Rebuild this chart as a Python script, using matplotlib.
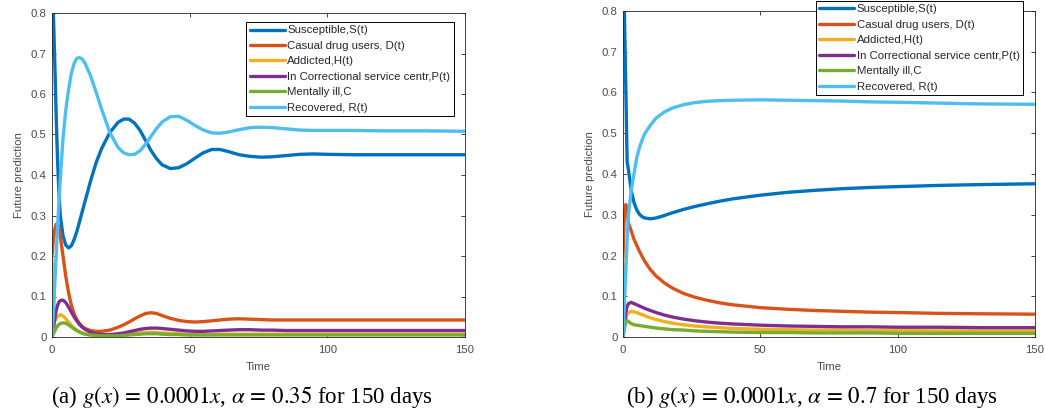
import matplotlib
matplotlib.use("Agg")
import matplotlib.pyplot as plt

# MATLAB default line colours
COLORS = ["#0072BD", "#D95319", "#EDB120", "#7E2F8E", "#77AC30", "#4DBEEE"]
LABELS = ["Susceptible,S(t)", "Casual drug users, D(t)", "Addicted,H(t)",
          "In Correctional service centr,P(t)", "Mentally ill,C", "Recovered, R(t)"]

# (a) alpha = 0.35
t_a = [0, 0.5, 1, 1.5, 2, 2.5, 3, 4, 5, 6, 7, 8, 9, 10, 11, 12, 14, 16, 18, 21, 24, 26,
       28, 30, 32, 34, 36, 38, 40, 43, 46, 49, 52, 55, 58, 61, 64, 68, 72, 76, 80, 85,
       90, 95, 100, 110, 120, 135, 150]
S_a = [0.70, 0.80, 0.68, 0.55, 0.44, 0.36, 0.30, 0.25, 0.227, 0.22, 0.225, 0.24, 0.26,
       0.285, 0.31, 0.335, 0.385, 0.43, 0.465, 0.505, 0.53, 0.538, 0.538, 0.528, 0.51,
       0.485, 0.46, 0.44, 0.425, 0.416, 0.418, 0.428, 0.442, 0.455, 0.463, 0.463, 0.458,
       0.45, 0.446, 0.444, 0.445, 0.448, 0.451, 0.452, 0.451, 0.45, 0.45, 0.45, 0.45]
D_a = [0.20, 0.24, 0.265, 0.278, 0.28, 0.27, 0.25, 0.20, 0.15, 0.11, 0.08, 0.058, 0.043,
       0.033, 0.026, 0.021, 0.016, 0.014, 0.014, 0.017, 0.024, 0.030, 0.037, 0.045, 0.052,
       0.058, 0.060, 0.058, 0.053, 0.046, 0.041, 0.038, 0.037, 0.038, 0.040, 0.042, 0.044,
       0.045, 0.044, 0.043, 0.042, 0.042, 0.042, 0.042, 0.042, 0.042, 0.042, 0.042, 0.042]
H_a = [0.20, 0.10, 0.04, 0.045, 0.05, 0.053, 0.055, 0.052, 0.045, 0.037, 0.029, 0.022,
       0.017, 0.013, 0.010, 0.008, 0.005, 0.004, 0.003, 0.003, 0.004, 0.005, 0.007, 0.009,
       0.010, 0.011, 0.012, 0.011, 0.010, 0.009, 0.008, 0.007, 0.006, 0.006, 0.006, 0.007,
       0.007, 0.007, 0.007, 0.007, 0.007, 0.007, 0.007, 0.007, 0.007, 0.007, 0.007, 0.007,
       0.007]
P_a = [0.0, 0.02, 0.045, 0.065, 0.078, 0.086, 0.09, 0.091, 0.085, 0.074, 0.062, 0.05,
       0.04, 0.031, 0.024, 0.019, 0.012, 0.008, 0.006, 0.006, 0.008, 0.010, 0.013, 0.016,
       0.019, 0.021, 0.022, 0.022, 0.021, 0.019, 0.017, 0.015, 0.014, 0.014, 0.015, 0.016,
       0.017, 0.018, 0.018, 0.017, 0.017, 0.016, 0.016, 0.016, 0.016, 0.016, 0.016, 0.016,
       0.016]
C_a = [0.0, 0.008, 0.015, 0.022, 0.027, 0.031, 0.033, 0.035, 0.034, 0.030, 0.025, 0.020,
       0.016, 0.012, 0.009, 0.007, 0.005, 0.004, 0.003, 0.003, 0.003, 0.004, 0.005, 0.006,
       0.007, 0.008, 0.008, 0.008, 0.007, 0.006, 0.006, 0.005, 0.005, 0.005, 0.005, 0.005,
       0.005, 0.005, 0.005, 0.005, 0.005, 0.005, 0.005, 0.005, 0.005, 0.005, 0.005, 0.005,
       0.005]
R_a = [0.0, 0.06, 0.13, 0.20, 0.27, 0.33, 0.39, 0.49, 0.56, 0.61, 0.65, 0.675, 0.688,
       0.69, 0.686, 0.676, 0.645, 0.605, 0.563, 0.505, 0.468, 0.455, 0.45, 0.451, 0.46,
       0.476, 0.496, 0.515, 0.531, 0.544, 0.545, 0.535, 0.522, 0.511, 0.504, 0.503, 0.506,
       0.512, 0.517, 0.518, 0.517, 0.514, 0.511, 0.51, 0.51, 0.51, 0.509, 0.509, 0.508]

# (b) alpha = 0.7
t_b = [0, 0.5, 1, 1.5, 2, 3, 4, 5, 6, 7, 8, 10, 12, 15, 18, 22, 26, 30, 35, 40, 50, 60,
       70, 80, 90, 100, 115, 130, 150]
S_b = [0.70, 0.80, 0.62, 0.43, 0.41, 0.36, 0.33, 0.312, 0.301, 0.295, 0.292, 0.29, 0.292,
       0.298, 0.305, 0.313, 0.32, 0.326, 0.333, 0.339, 0.348, 0.355, 0.36, 0.364, 0.367,
       0.369, 0.372, 0.374, 0.376]
D_b = [0.20, 0.30, 0.325, 0.31, 0.28, 0.26, 0.24, 0.225, 0.21, 0.197, 0.185, 0.165, 0.15,
       0.133, 0.12, 0.107, 0.098, 0.091, 0.084, 0.079, 0.072, 0.068, 0.065, 0.063, 0.061,
       0.06, 0.058, 0.057, 0.056]
H_b = [0.20, 0.08, 0.045, 0.055, 0.06, 0.063, 0.062, 0.06, 0.057, 0.055, 0.052, 0.047,
       0.043, 0.038, 0.034, 0.03, 0.027, 0.025, 0.023, 0.021, 0.019, 0.018, 0.017, 0.017,
       0.016, 0.016, 0.015, 0.015, 0.015]
P_b = [0.0, 0.03, 0.06, 0.075, 0.082, 0.085, 0.082, 0.079, 0.076, 0.073, 0.07, 0.065,
       0.06, 0.054, 0.049, 0.044, 0.04, 0.037, 0.034, 0.032, 0.029, 0.027, 0.026, 0.025,
       0.025, 0.024, 0.024, 0.023, 0.023]
C_b = [0.0, 0.02, 0.035, 0.04, 0.038, 0.033, 0.03, 0.029, 0.028, 0.027, 0.026, 0.024,
       0.022, 0.02, 0.018, 0.017, 0.015, 0.014, 0.013, 0.012, 0.011, 0.011, 0.01, 0.01,
       0.01, 0.009, 0.009, 0.009, 0.009]
R_b = [0.0, 0.08, 0.16, 0.24, 0.30, 0.36, 0.40, 0.44, 0.465, 0.484, 0.50, 0.52, 0.537,
       0.552, 0.562, 0.57, 0.575, 0.578, 0.58, 0.581, 0.582, 0.581, 0.58, 0.579, 0.577,
       0.576, 0.574, 0.572, 0.571]

YTICKS = [0, 0.1, 0.2, 0.3, 0.4, 0.5, 0.6, 0.7, 0.8]
YTICKLABELS = ["0", "0.1", "0.2", "0.3", "0.4", "0.5", "0.6", "0.7", "0.8"]
XTICKS = [0, 50, 100, 150]
CAPTIONS = [r"(a) $g(x)\,=\,0.0001x$, $\alpha\,=\,0.35$ for 150 days",
            r"(b) $g(x)\,=\,0.0001x$, $\alpha\,=\,0.7$ for 150 days"]

plt.rcParams["font.family"] = ["Liberation Sans", "DejaVu Sans"]
plt.rcParams["mathtext.fontset"] = "stix"
W, H = 1045, 411
fig = plt.figure(figsize=(W / 100, H / 100), dpi=100)

GRAY = "#262626"
TXT = "#4a4a4a"


def panel(rect, t, series, leg_anchor, caption, cx):
    ax = fig.add_axes(rect)
    for y, c, lab in zip(series, COLORS, LABELS):
        ax.plot(t, y, color=c, lw=2.4, label=lab, solid_joinstyle="round",
                solid_capstyle="round")
    ax.set_xlim(0, 150)
    ax.set_ylim(0, 0.8)
    ax.set_xticks(XTICKS)
    ax.set_yticks(YTICKS)
    ax.set_yticklabels(YTICKLABELS)
    ax.tick_params(direction="in", top=True, right=True, length=3, width=0.6,
                   labelsize=8.2, color=GRAY, labelcolor=TXT)
    ax.tick_params(axis="x", pad=6)
    ax.tick_params(axis="y", pad=4)
    for s in ax.spines.values():
        s.set_linewidth(0.6)
        s.set_color(GRAY)
    ax.set_xlabel("Time", fontsize=8.2, color=TXT, labelpad=5)
    ax.set_ylabel("Future prediction", fontsize=8.2, color=TXT, labelpad=5)
    leg = ax.legend(loc="upper right", bbox_to_anchor=leg_anchor, fontsize=8.2,
                    handlelength=3.1, handletextpad=0.2, labelspacing=0.48,
                    borderpad=0.3, borderaxespad=0, fancybox=False, framealpha=1)
    leg.get_frame().set_edgecolor("black")
    leg.get_frame().set_linewidth(0.7)
    for txt in leg.get_texts():
        txt.set_color(GRAY)
    fig.text(cx / W, 1 - 397 / H, caption, ha="center", va="center", fontsize=16.5,
             family=["Liberation Serif", "DejaVu Serif"])
    return ax


panel([52 / W, 74 / H, 413 / W, 324 / H], t_a, [S_a, D_a, H_a, P_a, C_a, R_a],
      (0.973, 0.972), CAPTIONS[0], 242)
panel([623 / W, 74 / H, 412 / W, 326 / H], t_b, [S_b, D_b, H_b, P_b, C_b, R_b],
      (0.971, 1.031), CAPTIONS[1], 812)

fig.savefig("out.png", dpi=100)
